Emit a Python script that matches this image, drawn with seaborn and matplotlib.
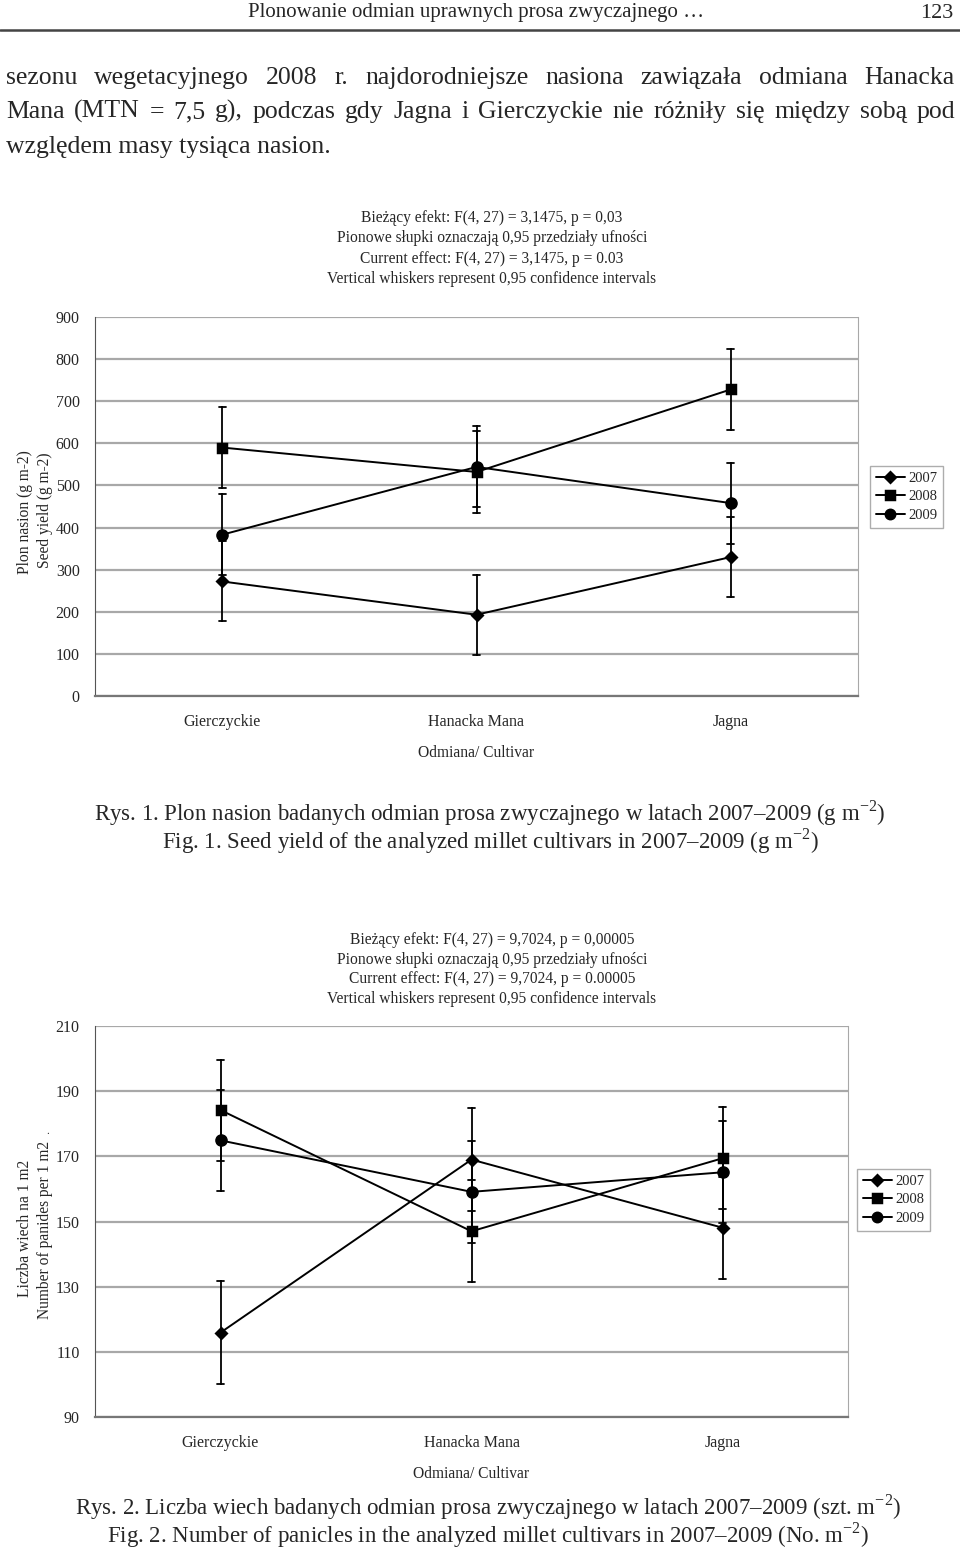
import pandas as pd
import matplotlib.pyplot as plt
import seaborn as sns

cultivars = ["Gierczyckie", "Hanacka Mana", "Jagna"]
years = ["2007", "2008", "2009"]

# Fig. 1 - seed yield (g m-2), means and half-width of 0,95 CI
yield_2007 = [272, 193, 330]
yield_2008 = [590, 532, 728]
yield_2009 = [383, 544, 458]
yield_ci_2007 = [95, 95, 96]
yield_ci_2008 = [97, 97, 96]
yield_ci_2009 = [96, 96, 96]

# Fig. 2 - number of panicles per 1 m2
pan_2007 = [115.9, 169.0, 148.1]
pan_2008 = [184.2, 147.0, 169.4]
pan_2009 = [174.9, 159.1, 165.1]
pan_ci_2007 = [15.7, 15.7, 15.6]
pan_ci_2008 = [15.5, 15.7, 15.6]
pan_ci_2009 = [15.6, 15.7, 15.7]

sns.set_style("white")
plt.rcParams['font.family'] = ['Liberation Serif', 'DejaVu Serif']
plt.rcParams['mathtext.fontset'] = 'custom'
plt.rcParams['mathtext.rm'] = 'Liberation Serif'

W, H = 960, 1547
fig = plt.figure(figsize=(9.6, 15.47), dpi=100)


def fx(x):
    return x / W


def fy(y):
    return 1 - y / H


def long_table(means, cis):
    rows = []
    for year, m, c in zip(years, means, cis):
        for cult, mv, cv in zip(cultivars, m, c):
            for v in (mv - cv, mv, mv + cv):
                rows.append({"cultivar": cult, "year": year, "value": v})
    return pd.DataFrame(rows)


def draw_chart(df, box, ylim, step, leg_xy):
    left, right, top, bottom = box
    ax = fig.add_axes([fx(left), fy(bottom), fx(right - left), (bottom - top) / H])
    sns.pointplot(data=df, x="cultivar", y="value", hue="year", order=cultivars,
                  hue_order=years, estimator="median",
                  errorbar=lambda v: (v.min(), v.max()),
                  markers=["D", "s", "o"], linestyles="-",
                  palette=["black"] * 3, capsize=0.028, dodge=False,
                  err_kws={"linewidth": 1.3}, markersize=8, linewidth=1.4, ax=ax)
    sizes = {"D": 6.5, "s": 7.5, "o": 8}
    for ln in ax.lines:
        m = ln.get_marker()
        if m in sizes:
            ln.set_markersize(sizes[m])
    handles, labels = ax.get_legend_handles_labels()
    for h in handles:
        if h.get_marker() in sizes:
            h.set_markersize(sizes[h.get_marker()] - 0.5)
    ax.get_legend().remove()
    ax.set_xlim(-0.5, 2.5)
    ax.set_ylim(*ylim)
    ax.set_yticks(range(ylim[0], ylim[1] + 1, step))
    ax.yaxis.grid(True, color="#a8a8a8", linewidth=1.6)
    ax.set_axisbelow(True)
    ax.set_xticks([-0.5, 0.5, 1.5, 2.5])
    ax.set_xticklabels([])
    ax.set_xticks([0, 1, 2], minor=True)
    ax.set_xticklabels(cultivars, minor=True, fontsize=11.5)
    ax.tick_params(axis="x", which="minor", length=0, pad=13)
    ax.tick_params(axis="x", which="major", length=5, color="#888888", direction="out")
    ax.tick_params(axis="y", length=5, color="#666666", labelsize=11.5, direction="out", pad=6)
    ax.set_xlabel("Odmiana/ Cultivar", fontsize=11.2, labelpad=11)
    ax.set_ylabel("")
    ax.spines["top"].set_visible(False)
    ax.spines["right"].set_color("#a8a8a8")
    ax.spines["left"].set_color("#555555")
    ax.spines["bottom"].set_color("#777777")
    ax.spines["bottom"].set_linewidth(1.6)
    leg = ax.legend(handles, labels, loc="upper left",
                    bbox_to_anchor=(fx(leg_xy[0]), fy(leg_xy[1])),
                    bbox_transform=fig.transFigure, frameon=True, fancybox=False,
                    edgecolor="#999999", fontsize=10.5, handlelength=2.0,
                    handletextpad=0.2, labelspacing=0.35, borderpad=0.4,
                    borderaxespad=0)
    leg.get_frame().set_linewidth(1.0)
    return ax


df_yield = long_table([yield_2007, yield_2008, yield_2009],
                      [yield_ci_2007, yield_ci_2008, yield_ci_2009])
df_pan = long_table([pan_2007, pan_2008, pan_2009],
                    [pan_ci_2007, pan_ci_2008, pan_ci_2009])

draw_chart(df_yield, (95, 858, 317, 696), (0, 900), 100, (870, 466))
draw_chart(df_pan, (95, 848, 1026, 1417), (90, 210), 20, (857, 1169))

# page header
fig.text(fx(476), fy(13), "Plonowanie odmian uprawnych prosa zwyczajnego …",
         ha="center", va="center", fontsize=15)
fig.text(fx(953), fy(13), "123", ha="right", va="center", fontsize=16)
fig.add_artist(plt.Line2D([0, 1], [fy(30), fy(30)], color="#444444", linewidth=1.8))

renderer = fig.canvas.get_renderer()


def justify(line, y, x0, x1, size):
    ts = [fig.text(0, fy(y), w, va="baseline", fontsize=size) for w in line.split()]
    widths = [t.get_window_extent(renderer).width for t in ts]
    gap = (x1 - x0 - sum(widths)) / (len(ts) - 1)
    x = x0
    for t, w in zip(ts, widths):
        t.set_x(fx(x))
        x += w + gap


justify("sezonu wegetacyjnego 2008 r. najdorodniejsze nasiona zawiązała odmiana Hanacka",
        84, 6, 955, 18.5)
justify("Mana (MTN = 7,5 g), podczas gdy Jagna i Gierczyckie nie różniły się między sobą pod",
        118, 6, 955, 18.5)
fig.text(fx(6), fy(153), "względem masy tysiąca nasion.", va="baseline", fontsize=18.5)

# statistics headers
stats1 = ["Bieżący efekt: F(4, 27) = 3,1475, p = 0,03",
          "Pionowe słupki oznaczają 0,95 przedziały ufności",
          "Current effect: F(4, 27) = 3,1475, p = 0.03",
          "Vertical whiskers represent 0,95 confidence intervals"]
stats2 = ["Bieżący efekt: F(4, 27) = 9,7024, p = 0,00005",
          "Pionowe słupki oznaczają 0,95 przedziały ufności",
          "Current effect: F(4, 27) = 9,7024, p = 0.00005",
          "Vertical whiskers represent 0,95 confidence intervals"]
for i, s in enumerate(stats1):
    fig.text(fx(492), fy(218 + i * 20.3), s, ha="center", va="center", fontsize=11.2)
for i, s in enumerate(stats2):
    fig.text(fx(492), fy(940 + i * 19.7), s, ha="center", va="center", fontsize=11.2)

# y axis titles
fig.text(fx(25), fy(512), "Plon nasion (g m-2)", rotation=90, ha="center", va="center", fontsize=11.2)
fig.text(fx(45), fy(510), "Seed yield (g m-2)", rotation=90, ha="center", va="center", fontsize=11.2)
fig.text(fx(25), fy(1228), "Liczba wiech na 1 m2", rotation=90, ha="center", va="center", fontsize=11.2)
fig.text(fx(45), fy(1230), "Number of panides per 1 m2", rotation=90, ha="center", va="center", fontsize=11.2)
fig.text(fx(48), fy(1131), ".", ha="center", va="center", fontsize=8)

# captions
fig.text(fx(490), fy(813), r"Rys. 1. Plon nasion badanych odmian prosa zwyczajnego w latach 2007–2009 (g m$^{-2}$)",
         ha="center", va="center", fontsize=16.5)
fig.text(fx(490), fy(841), r"Fig. 1. Seed yield of the analyzed millet cultivars in 2007–2009 (g m$^{-2}$)",
         ha="center", va="center", fontsize=16.5)
fig.text(fx(488), fy(1507), r"Rys. 2. Liczba wiech badanych odmian prosa zwyczajnego w latach 2007–2009 (szt. m$^{-2}$)",
         ha="center", va="center", fontsize=16.5)
fig.text(fx(488), fy(1535), r"Fig. 2. Number of panicles in the analyzed millet cultivars in 2007–2009 (No. m$^{-2}$)",
         ha="center", va="center", fontsize=16.5)

fig.savefig("out.png", dpi=100)
